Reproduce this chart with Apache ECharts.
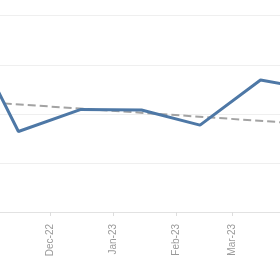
<!DOCTYPE html>
<html>
<head>
<meta charset="utf-8">
<script src="https://cdn.jsdelivr.net/npm/echarts@6/dist/echarts.min.js"></script>
<style>html,body{margin:0;padding:0;background:#fff}#c{width:280px;height:280px}</style>
</head>
<body>
<div id="c"></div>
<script>
// Data
const dates = ['2022-10-15', '2022-11-15', '2022-12-16', '2023-01-15', '2023-02-13', '2023-03-15', '2023-04-15'];
const values = [4.18, 1.64, 2.09, 2.08, 1.77, 2.69, 2.46];
const trendDates = ['2022-10-15', '2023-04-15'];
const trendValues = [2.28, 1.77];
const monthNames = ['Jan','Feb','Mar','Apr','May','Jun','Jul','Aug','Sep','Oct','Nov','Dec'];
const yTicks = [0, 1, 2, 3, 4];

const DAY = 864e5;
const ref = new Date(2022, 11, 1).getTime();
const xMin = ref - 25.13 * DAY;
const xMax = ref + 113.64 * DAY;

const chart = echarts.init(document.getElementById('c'), null, {renderer: 'canvas'});
chart.setOption({
  animation: false,
  grid: {left: 0, right: 0, top: 15.7, bottom: 68, containLabel: false},
  xAxis: {
    type: 'time',
    min: xMin, max: xMax,
    minInterval: 28 * DAY, maxInterval: 31 * DAY,
    offset: 5,
    axisLine: {show: true, lineStyle: {color: '#e2e2e2', width: 1}},
    axisTick: {show: true, length: 4, lineStyle: {color: '#dddddd'}},
    splitLine: {show: false},
    axisLabel: {
      rotate: 90, margin: 7, fontSize: 10, color: '#9a9a9a',
      fontFamily: 'Liberation Sans, Arial, sans-serif',
      formatter: function (v) {
        const d = new Date(v);
        return monthNames[d.getMonth()] + '-' + String(d.getFullYear()).slice(2);
      }
    }
  },
  yAxis: {
    type: 'value',
    min: yTicks[0], max: yTicks[yTicks.length - 1], interval: 1,
    axisLine: {show: false}, axisTick: {show: false}, axisLabel: {show: false},
    splitLine: {lineStyle: {color: '#efefef', width: 1}}
  },
  series: [
    {
      type: 'line',
      data: dates.map((d, i) => [d, values[i]]),
      showSymbol: false,
      lineStyle: {color: '#4e78a6', width: 3},
      clip: true,
      z: 3
    },
    {
      type: 'line',
      data: trendDates.map((d, i) => [d, trendValues[i]]),
      showSymbol: false,
      lineStyle: {color: '#a3a3a3', width: 2, type: [8, 4]},
      clip: true,
      z: 2
    }
  ]
});
</script>
</body>
</html>
